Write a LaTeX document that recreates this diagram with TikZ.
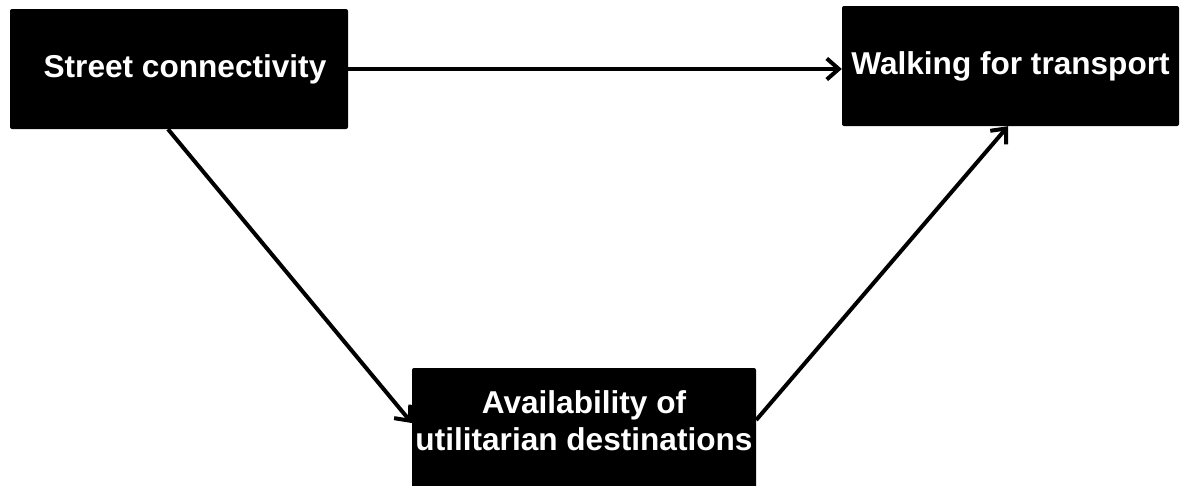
\documentclass[tikz,border=0pt]{standalone}
\usepackage{fontspec}
\setmainfont{Liberation Sans}
\usetikzlibrary{arrows.meta}
\begin{document}
\begin{tikzpicture}[x=1pt,y=-1pt,
  boxnode/.style={draw=none,fill=black,rounded corners=2pt,inner sep=0pt},
  lbl/.style={text=white,font=\fontsize{31.6}{37}\selectfont\bfseries,align=center,inner sep=0pt},
  conn/.style={line width=4pt,-{Straight Barb[length=12pt,width=21pt,line width=4pt]}}]
\useasboundingbox[fill=white] (0,0) rectangle (1185,485);
\node[boxnode,lbl,minimum width=338pt,minimum height=120pt] (a) at (179,69) {\hspace*{12pt}Street connectivity};
\node[boxnode,lbl,minimum width=337pt,minimum height=120pt] (b) at (1010.5,66) {Walking for transport};
\node[boxnode,minimum width=344pt,minimum height=127pt] (c) at (584,431.5) {};
\node[lbl] (ct) at (584,421) {Availability of\\utilitarian destinations};
\draw[conn] (a.east) -- (b.west |- a.east);
\draw[conn] ([xshift=-11pt]a.south) -- ([yshift=8.5pt]c.west);
\draw[conn] ([yshift=11.5pt]c.east) -- ([xshift=-2.5pt]b.south);
\end{tikzpicture}
\end{document}
